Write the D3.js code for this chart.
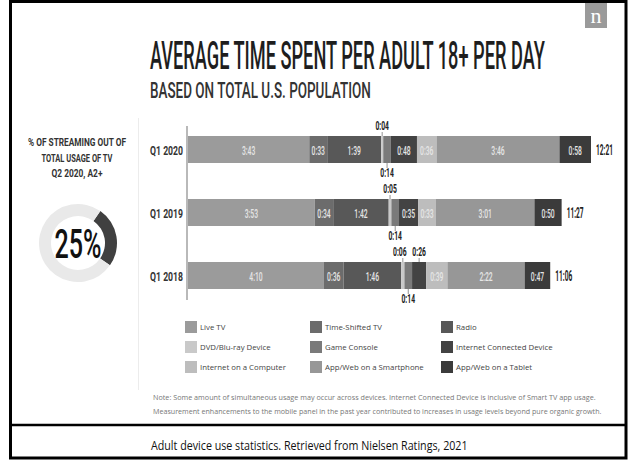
<!DOCTYPE html>
<html><head><meta charset="utf-8">
<script src="https://cdn.jsdelivr.net/npm/d3@7"></script>
<style>
body{margin:0;background:#fff;}
svg{display:block;}
.cond{font-family:"Roboto","DejaVu Sans",sans-serif;}
.sans{font-family:"Open Sans","Noto Sans","DejaVu Sans",sans-serif;}
</style></head>
<body>
<svg id="chart" width="629" height="460"></svg>
<script>
const rows = ["Q1 2020", "Q1 2019", "Q1 2018"];
const categories = ["Live TV", "Time-Shifted TV", "Radio", "DVD/Blu-ray Device", "Game Console",
  "Internet Connected Device", "Internet on a Computer", "App/Web on a Smartphone", "App/Web on a Tablet"];
const q1_2020 = ["3:43", "0:33", "1:39", "0:04", "0:14", "0:48", "0:36", "3:46", "0:58"];
const q1_2019 = ["3:53", "0:34", "1:42", "0:05", "0:14", "0:35", "0:33", "3:01", "0:50"];
const q1_2018 = ["4:10", "0:36", "1:46", "0:06", "0:14", "0:26", "0:39", "2:22", "0:47"];
const totals = ["12:21", "11:27", "11:06"];
const streamingShare = [25, 75];
const colors = ["#9b9b9b", "#6c6c6c", "#585858", "#c9c9c9", "#7a7a7a", "#434343", "#bdbdbd", "#979797", "#3b3b3b"];

const series = [q1_2020, q1_2019, q1_2018];
const toMin = s => { const [h, m] = s.split(":").map(Number); return h * 60 + m; };

const svg = d3.select("#chart");
// condensed text: real text, horizontally scaled
function ctext(parent, x, y, str, o) {
  const t = parent.append("text").attr("class", o.cls || "cond").attr("font-size", o.size)
    .attr("font-weight", o.weight || "normal").attr("fill", o.fill || "#222")
    .attr("text-anchor", o.anchor || "start").text(str);
  const w = t.node().getComputedTextLength();
  const sx = o.width ? o.width / w : o.factor;
  t.attr("transform", `translate(${x},${y}) scale(${sx},1)`);
  return t;
}

// frame
svg.append("rect").attr("x", 10.5).attr("y", 1.5).attr("width", 615.5).attr("height", 456.5)
  .attr("fill", "none").attr("stroke", "#000").attr("stroke-width", 3);
svg.append("line").attr("x1", 10).attr("x2", 627).attr("y1", 425).attr("y2", 425)
  .attr("stroke", "#000").attr("stroke-width", 2.5);
// faint divider left panel
svg.append("line").attr("x1", 138.5).attr("x2", 138.5).attr("y1", 118).attr("y2", 390)
  .attr("stroke", "#ececec").attr("stroke-width", 1);

// logo
svg.append("rect").attr("x", 585).attr("y", 3).attr("width", 22).attr("height", 25).attr("fill", "#9a9a9a");
svg.append("text").attr("x", 596).attr("y", 23).attr("text-anchor", "middle")
  .attr("font-family", "Liberation Serif, DejaVu Serif, serif").attr("font-size", 22).attr("fill", "#fff").text("n");

// titles
ctext(svg, 150, 69, "AVERAGE TIME SPENT PER ADULT 18+ PER DAY", { size: 38, weight: 500, width: 395, fill: "#1e1e1e" });
ctext(svg, 150, 98, "BASED ON TOTAL U.S. POPULATION", { size: 22.5, weight: 500, width: 221, fill: "#333" });

// left panel
const leftLines = ["% OF STREAMING OUT OF", "TOTAL USAGE OF TV", "Q2 2020, A2+"];
const leftW = [98, 71, 51];
const leftY = [146, 162, 177];
leftLines.forEach((t, i) => {
  ctext(svg, 77, leftY[i], t, { size: 10.5, weight: "bold", fill: "#333", width: leftW[i], anchor: "middle" });
});
const donutG = svg.append("g").attr("transform", "translate(78,243)");
const pie = d3.pie().sort(null).startAngle(35 * Math.PI / 180).endAngle(35 * Math.PI / 180 + 2 * Math.PI);
const arc = d3.arc().innerRadius(27).outerRadius(39);
donutG.selectAll("path").data(pie(streamingShare)).join("path")
  .attr("d", arc).attr("fill", (d, i) => i === 0 ? "#404040" : "#e9e9e9");
ctext(donutG, 0, 15, "25%", { size: 40, weight: 500, fill: "#111", width: 47, anchor: "middle" });

// scales
const x = d3.scaleLinear().domain([0, d3.max(series, s => d3.sum(s, toMin))]).range([188, 591]);
const y = d3.scalePoint().domain(rows).range([149.5, 275.5]);
const barH = 27;

svg.append("line").attr("x1", 187).attr("x2", 187).attr("y1", 126).attr("y2", 300)
  .attr("stroke", "#8a8a8a").attr("stroke-width", 1.2);

rows.forEach((r, ri) => {
  const vals = series[ri].map(toMin);
  let acc = 0;
  const segs = vals.map((v, i) => { const s = { i, v, label: series[ri][i], x0: acc, x1: acc + v }; acc += v; return s; });
  const g = svg.append("g");
  const top = y(r) - barH / 2, bot = y(r) + barH / 2;
  g.selectAll("rect").data(segs).join("rect")
    .attr("x", d => x(d.x0)).attr("y", top)
    .attr("width", d => x(d.x1) - x(d.x0)).attr("height", barH)
    .attr("fill", d => colors[d.i]);
  segs.forEach(d => {
    const cx = (x(d.x0) + x(d.x1)) / 2;
    if (d.v >= 30) {
      ctext(g, cx, y(r) + 5, d.label, { size: 13.5, weight: 500, fill: "#e6e6e6", anchor: "middle", factor: 0.5 });
    } else {
      const below = categories[d.i] === "Game Console";
      const ly = below ? bot + 14 : top - 6;
      g.append("line").attr("x1", cx).attr("x2", cx)
        .attr("y1", below ? bot : top).attr("y2", below ? bot + 5 : top - 4)
        .attr("stroke", "#777").attr("stroke-width", 0.8);
      ctext(g, cx - (d.i === 3 && ri === 2 ? 3 : 0), ly, d.label,
        { size: 13, weight: "bold", fill: "#222", anchor: "middle", factor: 0.52 });
    }
  });
  ctext(svg, 183, y(r) + 5, r, { size: 13.5, weight: "bold", fill: "#333", anchor: "end", width: 33 });
  ctext(svg, x(acc) + 5, y(r) + 5, totals[ri], { size: 14, weight: "bold", fill: "#222", width: 17 });
});

// legend
const legX = [185, 310, 441];
const legY = [327, 347, 367];
categories.forEach((c, i) => {
  const lx = legX[i % 3], ly = legY[Math.floor(i / 3)];
  svg.append("rect").attr("x", lx).attr("y", ly - 6).attr("width", 12).attr("height", 12).attr("fill", colors[i]);
  svg.append("text").attr("class", "sans").attr("x", lx + 15).attr("y", ly + 3)
    .attr("font-size", 7.8).attr("fill", "#444").text(c);
});

// note
const note1 = "Note: Some amount of simultaneous usage may occur across devices. Internet Connected Device is inclusive of Smart TV app usage.";
const note2 = "Measurement enhancements to the mobile panel in the past year contributed to increases in usage levels beyond pure organic growth.";
ctext(svg, 153, 400, note1, { cls: "sans", size: 7, fill: "#777", width: 443 });
ctext(svg, 153, 414, note2, { cls: "sans", size: 7, fill: "#777", width: 449 });

// caption
ctext(svg, 151, 450, "Adult device use statistics. Retrieved from Nielsen Ratings, 2021",
  { cls: "sans", size: 12, fill: "#111", width: 317 });
</script>
</body></html>
